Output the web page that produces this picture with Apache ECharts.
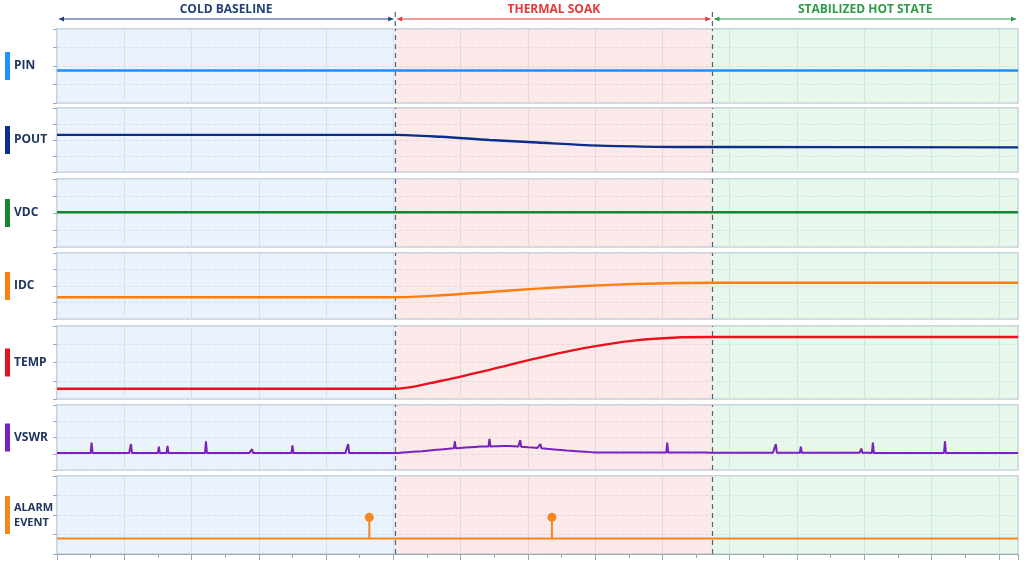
<!DOCTYPE html><html><head><meta charset="utf-8">
<script src="https://cdn.jsdelivr.net/npm/echarts@6/dist/echarts.min.js"></script>
<style>html,body{margin:0;background:#fff}#c{width:1024px;height:576px}</style></head><body><div id="c"></div>
<script>
const names=['PIN','POUT','VDC','IDC','TEMP','VSWR','ALARM\nEVENT'];
const colors=['#1e90ff','#0b2d8c','#17862f','#ff7f0e','#e8121c','#7a1fc0','#f7861f'];
const phases=['COLD BASELINE','THERMAL SOAK','STABILIZED HOT STATE'];
const phaseBounds=[0,35.2,68.2,100];
const phaseText=['#23407a','#e53935','#2e9a48'];
const phaseFill=['rgba(214,232,250,0.5)','rgba(250,214,214,0.5)','rgba(210,240,218,0.55)'];
const xs=[0,35.2,40,45,50,55,60,65,68.2,100];
const pin=[0.44,0.44,0.44,0.44,0.44,0.44,0.44,0.44,0.44,0.44];
const pout=[0.58,0.58,0.55,0.50,0.46,0.42,0.40,0.39,0.39,0.385];
const vdc=[0.51,0.51,0.51,0.51,0.51,0.51,0.51,0.51,0.51,0.51];
const idc=[0.33,0.33,0.36,0.41,0.46,0.50,0.53,0.545,0.55,0.55];
const temp=[0.14,0.14,0.25,0.40,0.56,0.70,0.80,0.845,0.85,0.85];
const vswrBaseX=[0,35.2,38,41,44,47,50,53,56,100];
const vswrBase=[0.26,0.26,0.29,0.33,0.36,0.37,0.34,0.30,0.27,0.26];
const spikeX=[3.6,7.7,10.6,11.5,15.5,20.3,24.5,30.3,41.4,45,48.2,50.3,63.5,74.8,77.4,83.7,84.9,92.4];
const spikeH=[0.42,0.40,0.36,0.37,0.44,0.32,0.38,0.40,0.44,0.48,0.46,0.40,0.42,0.40,0.36,0.33,0.42,0.44];
const alarmBase=0.2;
const alarmX=[32.5,51.5];
const alarmY=[0.47,0.47];

const tops=[29,108,179,253,326,405,476], hs=[74,64,68,66,73,65,78];
function interp(xa,ya,x){for(let i=1;i<xa.length;i++){if(x<=xa[i]){const t=(x-xa[i-1])/(xa[i]-xa[i-1]);return ya[i-1]+t*(ya[i]-ya[i-1]);}}return ya[ya.length-1];}
const grids=[],xAxes=[],yAxes=[],series=[];
const lines=[pin,pout,vdc,idc,temp];
for(let i=0;i<7;i++){
 grids.push({left:57,right:6,top:tops[i],height:hs[i],show:true,borderColor:'#b9c6d3',borderWidth:1.5});
 xAxes.push({type:'value',gridIndex:i,min:0,max:100,interval:7,axisLine:{show:i==6,lineStyle:{color:'#9aa8b6'}},
  axisTick:{show:i==6,length:6,lineStyle:{color:'#9aa8b6'}},minorTick:{show:i==6,splitNumber:2,length:4,lineStyle:{color:'#9aa8b6'}},
  axisLabel:{show:false},splitLine:{show:true,lineStyle:{color:'#cfdae4'}}});
 yAxes.push({type:'value',gridIndex:i,min:0,max:1,interval:0.25,axisLine:{show:false},axisTick:{show:true,length:4,lineStyle:{color:'#9aa8b6'}},
  axisLabel:{show:false},splitLine:{show:true,lineStyle:{color:'#d5dde6',type:'dashed'}}});
 const bg={type:'line',xAxisIndex:i,yAxisIndex:i,data:[],silent:true,
  markArea:{silent:true,data:[0,1,2].map(k=>[{xAxis:phaseBounds[k],itemStyle:{color:phaseFill[k]}},{xAxis:phaseBounds[k+1]}])},
  markLine:{silent:true,symbol:'none',label:{show:false},lineStyle:{color:'#4a6584',type:[5,4],width:1.2},data:[{xAxis:35.2},{xAxis:68.2}]}};
 series.push(bg);
 let data;
 if(i<5){data=xs.map((x,k)=>[x,lines[i][k]]);series.push({type:'line',xAxisIndex:i,yAxisIndex:i,data,smooth:0.3,symbol:'none',lineStyle:{color:colors[i],width:2.4},z:5});}
 else if(i==5){
  const pts=[];for(let x=0;x<=100;x+=0.5){pts.push([x,interp(vswrBaseX,vswrBase,x)]);}
  spikeX.forEach((sx,k)=>{const b=interp(vswrBaseX,vswrBase,sx);pts.push([sx-0.1,b],[sx,spikeH[k]],[sx+0.1,b]);});
  pts.sort((a,b)=>a[0]-b[0]);
  series.push({type:'line',xAxisIndex:i,yAxisIndex:i,data:pts,symbol:'none',lineStyle:{color:colors[i],width:2},z:5});
 } else {
  series.push({type:'line',xAxisIndex:i,yAxisIndex:i,data:[[0,alarmBase],[100,alarmBase]],symbol:'none',lineStyle:{color:colors[i],width:2},z:5});
  alarmX.forEach((ax,k)=>series.push({type:'line',xAxisIndex:i,yAxisIndex:i,data:[{value:[ax,alarmBase],symbol:'none'},{value:[ax,alarmY[k]]}],
   symbol:'circle',symbolSize:9,itemStyle:{color:colors[i]},lineStyle:{color:colors[i],width:2},z:6}));
 }
}
const chart=echarts.init(document.getElementById('c'));
chart.setOption({animation:false,grid:grids,xAxis:xAxes,yAxis:yAxes,series});
const g=[];
for(let i=0;i<7;i++){
 const cy=tops[i]+hs[i]/2;const two=i==6;
 g.push({type:'rect',shape:{x:5,y:cy-(two?19:14),width:5,height:two?38:28},style:{fill:colors[i]}});
 g.push({type:'text',x:14,y:cy,style:{text:names[i],fill:'#1f3560',font:(two?'bold 11px':'bold 12px')+' "Open Sans"',verticalAlign:'middle',lineHeight:15}});
}
const px=v=>chart.convertToPixel({xAxisIndex:0},v);
for(let k=0;k<3;k++){
 const a=px(phaseBounds[k])+2,b=px(phaseBounds[k+1])-2,c=phaseText[k];
 g.push({type:'line',shape:{x1:a,y1:19,x2:b,y2:19},style:{stroke:c,lineWidth:1}});
 g.push({type:'polygon',shape:{points:[[a,19],[a+5,16.5],[a+5,21.5]]},style:{fill:c}});
 g.push({type:'polygon',shape:{points:[[b,19],[b-5,16.5],[b-5,21.5]]},style:{fill:c}});
 g.push({type:'text',x:(a+b)/2,y:10,style:{text:phases[k],fill:c,font:'bold 12px "Open Sans"',align:'center',verticalAlign:'middle'}});
}
[35.2,68.2].forEach(v=>{const x=px(v);g.push({type:'line',shape:{x1:x,y1:12,x2:x,y2:29},style:{stroke:'#4a6584',lineDash:[5,4],lineWidth:1.2}});});
chart.setOption({graphic:g});
</script></body></html>
